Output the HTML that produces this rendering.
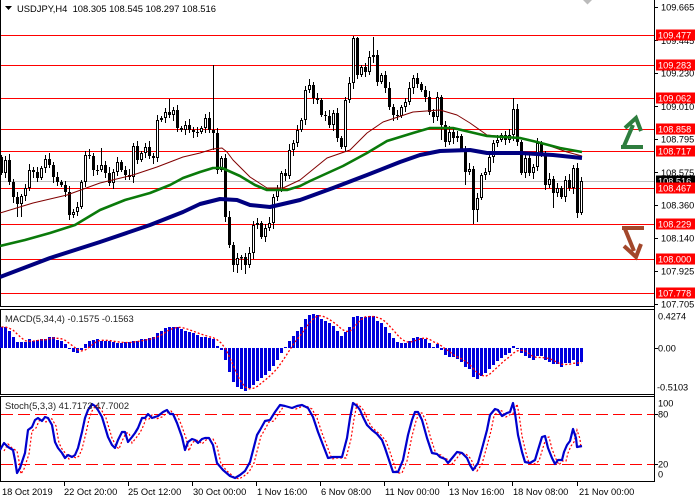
<!DOCTYPE html>
<html><head><meta charset="utf-8">
<style>
html,body{margin:0;padding:0;background:#fff;}
svg{display:block;font-family:"Liberation Sans",Arial,sans-serif;}
</style></head>
<body>
<svg id="s" width="700" height="500" viewBox="0 0 700 500" xmlns="http://www.w3.org/2000/svg">
<rect width="700" height="500" fill="#fff"/>

<!-- frames -->
<g stroke="#000" stroke-width="1" fill="none" shape-rendering="crispEdges">
  <line x1="0.5" y1="0" x2="0.5" y2="307"/>
  <line x1="654.5" y1="0" x2="654.5" y2="482"/>
  <line x1="0" y1="306.5" x2="655" y2="306.5"/>
  <rect x="0.5" y="309.5" width="654" height="85"/>
  <rect x="0.5" y="396.5" width="654" height="85"/>
</g>

<!-- red level lines -->
<g stroke="#ff0000" stroke-width="1" shape-rendering="crispEdges">
  <line x1="1" y1="35.5" x2="654" y2="35.5"/>
  <line x1="1" y1="65.5" x2="654" y2="65.5"/>
  <line x1="1" y1="98.5" x2="654" y2="98.5"/>
  <line x1="1" y1="129.5" x2="654" y2="129.5"/>
  <line x1="1" y1="151.5" x2="654" y2="151.5"/>
  <line x1="1" y1="188.5" x2="654" y2="188.5"/>
  <line x1="1" y1="224.5" x2="654" y2="224.5"/>
  <line x1="1" y1="259.5" x2="654" y2="259.5"/>
  <line x1="1" y1="293.5" x2="654" y2="293.5"/>
</g>
<line x1="1" y1="181.5" x2="654" y2="181.5" stroke="#c0c0c0" stroke-width="1" shape-rendering="crispEdges"/>

<g id="cand"></g>

<!-- moving averages -->
<polyline fill="none" stroke="#800000" stroke-width="1" stroke-linejoin="round" points="0,213 33,203 67,195 100,183 133,175 157,167 183,157 200,153 213,149 222,148 227,152 233,160 250,177 267,188 283,188 300,180 327,158 350,150 367,133 383,122 413,112 440,110 457,115 470,123 487,135 507,137 527,139 547,145 567,152 582,156"/>
<polyline fill="none" stroke="#0a7a0a" stroke-width="2.6" stroke-linejoin="round" points="0,246 25,240 50,233 75,225 100,210 125,200 150,193 170,185 183,178 200,172 213,168 222,168 240,176 255,185 267,190 287,190 300,186 310,181 343,166 367,153 387,141 413,133 430,128 453,128 470,132 487,136 520,138 537,142 560,148 582,152"/>
<polyline fill="none" stroke="#000080" stroke-width="4" stroke-linejoin="round" points="0,277 50,258 100,242 150,225 183,212 200,204 220,199 237,200 250,205 270,207 300,200 333,188 367,175 400,162 420,155 440,151 470,150 487,153 520,153 553,155 582,158"/>

<!-- MACD -->
<g id="macd"></g>
<polyline id="macdsig" fill="none" stroke="#ff0000" stroke-width="1.3" stroke-dasharray="2,2"/>

<!-- Stoch -->
<g stroke="#ff0000" stroke-width="1.2" stroke-dasharray="12,5" shape-rendering="crispEdges">
  <line x1="1" y1="414.5" x2="654" y2="414.5"/>
  <line x1="1" y1="464.5" x2="654" y2="464.5"/>
</g>
<polyline id="stsig" fill="none" stroke="#ff0000" stroke-width="1.2" stroke-dasharray="2,2"/>
<polyline id="stmain" fill="none" stroke="#0000cd" stroke-width="2.2" stroke-linejoin="round"/>

<!-- header -->
<polygon points="5,6 12,6 8.5,10" fill="#000"/>
<text x="17" y="12" font-size="9.4" fill="#000">USDJPY,H4&#160; 108.305 108.545 108.297 108.516</text>
<text x="5" y="322" font-size="9.4" fill="#222">MACD(5,34,4) -0.1575 -0.1563</text>
<text x="5" y="409" font-size="9.4" fill="#222">Stoch(5,3,3) 41.7173 47.7002</text>

<polygon points="583,0 592,0 587.5,4.5" fill="#bbbbbb"/>

<!-- arrows -->
<path d="M621,147 H643 M624,146 L633,125 M625,128 L636,118 L641,131" stroke="#2e7d3e" stroke-width="4" fill="none" stroke-linejoin="miter"/>
<path d="M622,228 H644 M625,229 L634,251 M624,246 L636,257 L641,244" stroke="#a3472b" stroke-width="4" fill="none" stroke-linejoin="miter"/>

<!-- right axis ticks -->
<g stroke="#000" stroke-width="1" shape-rendering="crispEdges">
  <line x1="654" y1="7.5" x2="658" y2="7.5"/>
  <line x1="654" y1="40.5" x2="658" y2="40.5"/>
  <line x1="654" y1="73.5" x2="658" y2="73.5"/>
  <line x1="654" y1="106.5" x2="658" y2="106.5"/>
  <line x1="654" y1="139.5" x2="658" y2="139.5"/>
  <line x1="654" y1="172.5" x2="658" y2="172.5"/>
  <line x1="654" y1="205.5" x2="658" y2="205.5"/>
  <line x1="654" y1="238.5" x2="658" y2="238.5"/>
  <line x1="654" y1="271.5" x2="658" y2="271.5"/>
  <line x1="654" y1="304.5" x2="658" y2="304.5"/>
  <line x1="654" y1="348.5" x2="658" y2="348.5"/>
  <line x1="654" y1="414.5" x2="658" y2="414.5"/>
  <line x1="654" y1="464.5" x2="658" y2="464.5"/>
  <line x1="64.5" y1="482" x2="64.5" y2="486"/>
  <line x1="128.5" y1="482" x2="128.5" y2="486"/>
  <line x1="192.5" y1="482" x2="192.5" y2="486"/>
  <line x1="256.5" y1="482" x2="256.5" y2="486"/>
  <line x1="320.5" y1="482" x2="320.5" y2="486"/>
  <line x1="384.5" y1="482" x2="384.5" y2="486"/>
  <line x1="448.5" y1="482" x2="448.5" y2="486"/>
  <line x1="512.5" y1="482" x2="512.5" y2="486"/>
  <line x1="577.5" y1="482" x2="577.5" y2="486"/>
</g>

<g font-size="9.2" fill="#000">
  <text x="661" y="10.6">109.665</text>
  <text x="661" y="43.9">109.445</text>
  <text x="661" y="76.5">109.230</text>
  <text x="661" y="109.8">109.010</text>
  <text x="661" y="142.4">108.795</text>
  <text x="661" y="175.8">108.575</text>
  <text x="661" y="208.3">108.360</text>
  <text x="661" y="241.7">108.140</text>
  <text x="661" y="274.3">107.925</text>
  <text x="661" y="307.6">107.705</text>
  <text x="658" y="319.3">0.4274</text>
  <text x="658" y="351.3">0.00</text>
  <text x="657" y="390.3">-0.5103</text>
  <text x="658" y="406.3">100</text>
  <text x="658" y="417.3">80</text>
  <text x="658" y="467.3">20</text>
  <text x="658" y="477.3">0</text>
</g>

<!-- price boxes -->
<g font-size="9.2">
  <rect x="656" y="175.5" width="39" height="11" fill="#000"/>
  <text x="658" y="184.4" fill="#fff">108.516</text>
  <rect x="656" y="29.5" width="39" height="11" fill="#ff0000"/><text x="658" y="38.6" fill="#fff">109.477</text>
  <rect x="656" y="59.5" width="39" height="11" fill="#ff0000"/><text x="658" y="68.6" fill="#fff">109.283</text>
  <rect x="656" y="92.5" width="39" height="11" fill="#ff0000"/><text x="658" y="101.6" fill="#fff">109.062</text>
  <rect x="656" y="123.5" width="39" height="11" fill="#ff0000"/><text x="658" y="132.6" fill="#fff">108.858</text>
  <rect x="656" y="145.5" width="39" height="11" fill="#ff0000"/><text x="658" y="154.6" fill="#fff">108.717</text>
  <rect x="656" y="182.5" width="39" height="11" fill="#ff0000"/><text x="658" y="191.6" fill="#fff">108.467</text>
  <rect x="656" y="218.5" width="39" height="11" fill="#ff0000"/><text x="658" y="227.6" fill="#fff">108.229</text>
  <rect x="656" y="253.5" width="39" height="11" fill="#ff0000"/><text x="658" y="262.6" fill="#fff">108.000</text>
  <rect x="656" y="287.5" width="39" height="11" fill="#ff0000"/><text x="658" y="296.6" fill="#fff">107.778</text>
</g>

<!-- time axis -->
<g font-size="9.3" fill="#000">
  <text x="2" y="495">18 Oct 2019</text>
  <text x="64" y="495">22 Oct 20:00</text>
  <text x="128" y="495">25 Oct 12:00</text>
  <text x="193" y="495">30 Oct 00:00</text>
  <text x="257" y="495">1 Nov 16:00</text>
  <text x="321" y="495">6 Nov 08:00</text>
  <text x="385" y="495">11 Nov 00:00</text>
  <text x="449" y="495">13 Nov 16:00</text>
  <text x="513" y="495">18 Nov 08:00</text>
  <text x="579" y="495">21 Nov 00:00</text>
</g>
</svg>
<script>
(function(){
var NS="http://www.w3.org/2000/svg";
function el(t,a,p){var e=document.createElementNS(NS,t);for(var k in a)e.setAttribute(k,a[k]);p.appendChild(e);return e;}
var C=[173,160,182,197,204,196,188,170,172,178,
168,159,165,177,182,185,192,215,212,207,
182,155,156,170,170,165,173,183,172,162,
170,175,177,146,160,153,147,156,158,120,
118,112,115,110,128,130,125,130,132,132,
128,118,130,133,170,158,217,245,265,258,
257,265,253,225,223,237,228,223,197,190,
173,176,150,143,130,120,90,85,98,100,
115,116,125,113,138,147,100,83,38,75,
67,72,57,55,82,75,88,107,115,116,
107,102,88,78,84,90,97,112,117,97,
125,142,132,138,136,150,172,169,210,198,
175,172,157,143,140,135,140,135,109,142,
173,158,173,167,143,155,185,179,193,188,
197,180,188,168,213,181];
var HI={25:148,42:99,53:65,88:36,89:37,93:37,128:98,145:177,63:221,86:97};
var LO={4:217,5:217,17:220,18:218,53:150,58:272,59:273,60:270,61:274,118:224,119:222,138:208,144:218,145:215,110:140,116:185};
var g=document.getElementById('cand');
var prev=157;
for(var i=0;i<C.length;i++){
  var o=prev,c=C[i];prev=c;
  var top=Math.min(o,c),bot=Math.max(o,c);
  if(bot-top<1)bot=top+1;
  var h=(HI[i]!==undefined)?HI[i]:top-(2+(i*7)%5);
  var l=(LO[i]!==undefined)?LO[i]:bot+(2+(i*3)%5);
  var cx=4*i+1.5;
  el('line',{x1:cx,y1:h,x2:cx,y2:l,stroke:'#000','stroke-width':1},g);
  if(c<o){
    el('rect',{x:cx-1,y:top+0.5,width:2,height:Math.max(0.5,bot-top-1),fill:'#fff',stroke:'#000','stroke-width':1},g);
  }else{
    el('rect',{x:cx-1.5,y:top,width:3,height:bot-top,fill:'#000'},g);
  }
}
var M=[327,327,331,337,342,342,342,339,341,340,
339,339,337,337,340,341,344,349,352,353,
350,344,341,340,339,341,341,341,342,343,
343,342,342,341,341,339,339,338,337,333,
331,328,327,327,327,329,331,332,333,335,
337,337,338,339,346,350,360,372,382,387,
389,391,388,385,381,378,375,371,366,360,
353,347,341,336,331,327,319,315,314,315,
319,321,323,326,331,336,332,327,317,316,
317,317,316,316,321,323,327,333,338,342,
343,343,341,338,337,338,339,343,347,344,
350,355,357,357,359,362,367,369,377,379,
376,373,369,365,361,358,355,353,346,349,
353,356,358,360,356,356,360,362,364,364,
367,363,363,360,366,362];
var mg=document.getElementById('macd');
var Z=348,pts=[];
for(var i=0;i<M.length;i++){
  var v=M[i],y,hh;
  if(v<Z){y=v;hh=Z-v;}else{y=Z;hh=Math.max(1,v-Z);}
  el('rect',{x:4*i,y:y,width:3,height:hh,fill:'#0000dd'},mg);
  var s=0,n=0;for(var j=Math.max(0,i-3);j<=i;j++){s+=M[j];n++;}
  pts.push((4*i+1.5)+','+(s/n).toFixed(1));
}
document.getElementById('macdsig').setAttribute('points',pts.join(' '));
var S=[[0,450],[4,443],[8,447],[13,450],[15,460],[17,473],[20,468],[25,453],[28,430],[32,427],[35,420],[38,418],[42,421],[45,417],[48,418],[52,425],[55,442],[58,448],[62,453],[65,458],[68,455],[72,457],[75,455],[78,448],[82,432],[85,418],[88,410],[92,404],[95,406],[98,410],[102,417],[105,427],[108,437],[112,445],[115,448],[118,440],[122,432],[125,432],[128,442],[132,437],[135,433],[138,428],[142,418],[145,418],[148,414],[152,418],[155,417],[158,416],[163,412],[167,410],[170,414],[173,414],[177,423],[182,437],[185,450],[188,442],[192,439],[195,440],[198,443],[202,439],[205,438],[209,438],[213,445],[217,463],[223,470],[230,476],[235,478],[240,475],[245,471],[250,462],[257,435],[260,430],[265,421],[270,420],[275,412],[280,405],[285,406],[292,408],[297,406],[302,405],[308,408],[313,417],[318,432],[323,445],[328,458],[333,457],[342,457],[347,438],[350,418],[353,403],[357,406],[360,410],[363,417],[367,425],[372,430],[377,434],[382,440],[385,448],[388,457],[393,472],[398,472],[403,460],[408,435],[412,420],[415,412],[418,412],[422,420],[427,438],[432,453],[437,454],[440,457],[445,459],[448,463],[453,457],[457,452],[462,453],[467,458],[470,465],[473,470],[478,463],[483,445],[487,430],[490,415],[495,409],[498,410],[502,416],[507,413],[510,412],[513,403],[515,413],[518,435],[522,452],[525,462],[530,463],[535,460],[538,450],[542,437],[545,436],[548,448],[552,458],[555,464],[558,460],[562,460],[564,452],[567,445],[570,441],[573,429],[576,438],[577,447],[582,446]];
var a=[],b=[];
for(var i=0;i<S.length;i++){a.push(S[i][0]+','+S[i][1]);if(S[i][0]+4<=584)b.push((S[i][0]+4)+','+(S[i][1]+1));}
document.getElementById('stmain').setAttribute('points',a.join(' '));
document.getElementById('stsig').setAttribute('points',b.join(' '));
})();
</script>
</body></html>
